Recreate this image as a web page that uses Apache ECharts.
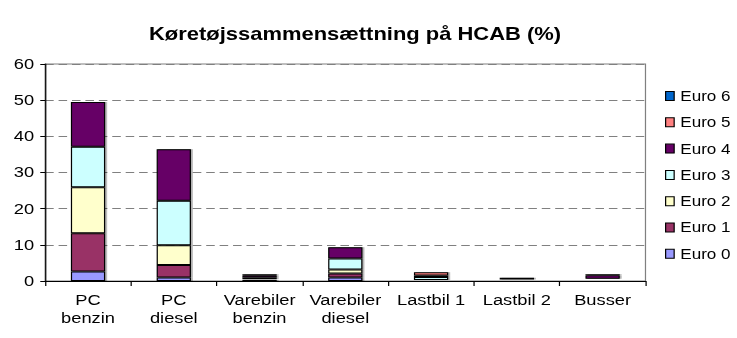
<!DOCTYPE html>
<html>
<head>
<meta charset="utf-8">
<script src="https://cdn.jsdelivr.net/npm/echarts@6/dist/echarts.min.js"></script>
<style>
  html, body { margin: 0; padding: 0; background: #fff; overflow: hidden; }
  /* The chart is laid out on a narrower canvas and widened to 737px,
     giving the broad, horizontally stretched lettering of the original export. */
  #chart { width: 604px; height: 338px; transform: scaleX(1.2202); transform-origin: 0 0; }
</style>
</head>
<body>
<div id="chart"></div>
<script>
// Vehicle categories on the x axis
const categories = ['PC\nbenzin', 'PC\ndiesel', 'Varebiler\nbenzin', 'Varebiler\ndiesel', 'Lastbil 1', 'Lastbil 2', 'Busser'];

// Share (%) of each emission class per vehicle category
const euro0 = [2.6, 1.0, 0.3, 1.0, 0.1, 0.1, 0.2];
const euro1 = [10.6, 3.4, 0.1, 1.1, 0.1, 0.1, 0.2];
const euro2 = [12.7, 5.5, 0.1, 1.1, 0.1, 0.1, 0.1];
const euro3 = [11.2, 12.3, 0.5, 3.0, 0.8, 0.1, 0.1];
const euro4 = [12.4, 14.2, 0.6, 3.1, 0.4, 0.5, 1.0];
const euro5 = [0, 0, 0.3, 0, 0.9, 0, 0.3];
const euro6 = [0, 0, 0, 0, 0, 0, 0];

const yTicks = [0, 10, 20, 30, 40, 50, 60];

const classes = [
  { name: 'Euro 0', data: euro0, color: '#9999FF' },
  { name: 'Euro 1', data: euro1, color: '#993366' },
  { name: 'Euro 2', data: euro2, color: '#FFFFCC' },
  { name: 'Euro 3', data: euro3, color: '#CCFFFF' },
  { name: 'Euro 4', data: euro4, color: '#660066' },
  { name: 'Euro 5', data: euro5, color: '#FF8080' },
  { name: 'Euro 6', data: euro6, color: '#0066CC' }
];

const font = '"Liberation Sans", Arial, sans-serif';

const chart = echarts.init(document.getElementById('chart'), null, { renderer: 'svg' });

chart.setOption({
  animation: false,
  backgroundColor: '#fff',
  title: {
    text: 'Køretøjssammensættning på HCAB (%)',
    left: 286,
    textAlign: 'center',
    top: 20,
    textStyle: { fontFamily: font, fontSize: 18, fontWeight: 'bold', color: '#000' }
  },
  legend: {
    orient: 'vertical',
    left: 540,
    top: 83,
    itemWidth: 7,
    itemHeight: 9,
    itemGap: 10.3,
    icon: 'rect',
    data: classes.map(c => c.name).reverse(),
    textStyle: { fontFamily: font, fontSize: 14, lineHeight: 16, color: '#000' },
    itemStyle: { borderColor: '#000', borderWidth: 1 }
  },
  grid: {
    left: 37, right: 75, top: 64, bottom: 57,
    show: true, borderColor: '#808080', borderWidth: 1, backgroundColor: 'transparent'
  },
  xAxis: {
    type: 'category',
    data: categories,
    axisLine: { lineStyle: { color: '#000', width: 1 } },
    axisTick: { show: true, length: 5, lineStyle: { color: '#000' } },
    axisLabel: {
      fontFamily: font, fontSize: 15, color: '#000', margin: 10, lineHeight: 18, interval: 0
    }
  },
  yAxis: {
    type: 'value',
    min: yTicks[0],
    max: yTicks[yTicks.length - 1],
    interval: 10,
    axisLine: { show: true, lineStyle: { color: '#000', width: 1 } },
    axisTick: { show: true, length: 4, lineStyle: { color: '#000' } },
    axisLabel: { fontFamily: font, fontSize: 15, color: '#000', margin: 9 },
    splitLine: { show: true, lineStyle: { color: '#808080', type: [7, 4], width: 1 } }
  },
  series: classes.map(c => ({
    name: c.name,
    type: 'bar',
    stack: 'total',
    data: c.data,
    barWidth: '40%',
    itemStyle: {
      color: c.color,
      borderColor: '#000',
      borderWidth: 1,
      shadowColor: 'rgba(0,0,0,0.3)',
      shadowOffsetX: 1.5,
      shadowOffsetY: 0,
      shadowBlur: 0
    }
  }))
});
</script>
</body>
</html>
